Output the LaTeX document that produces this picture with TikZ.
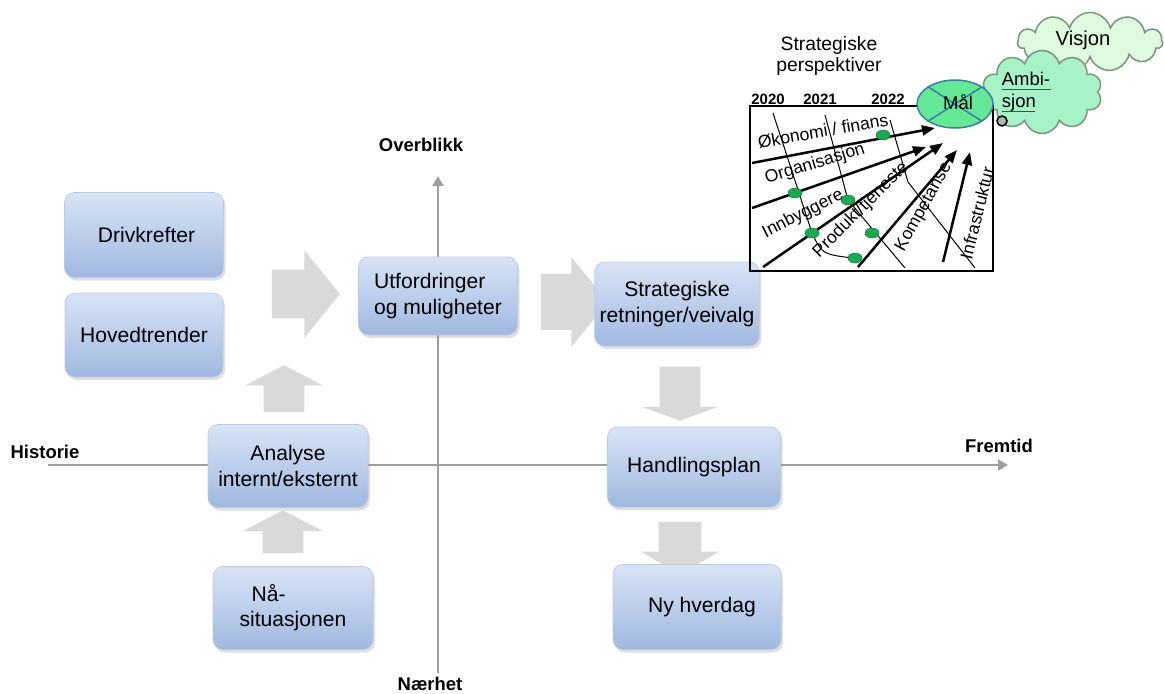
\documentclass[tikz,border=0pt]{standalone}
\usepackage{fontspec}
\setmainfont{Liberation Sans}
\usetikzlibrary{shapes.geometric,shapes.symbols,shapes.arrows,shadows,arrows.meta}
\definecolor{boksTopp}{RGB}{216,228,245}
\definecolor{boksBunn}{RGB}{160,184,224}
\definecolor{boksKant}{RGB}{186,202,230}
\definecolor{pilgraa}{RGB}{217,217,217}
\definecolor{aksegraa}{RGB}{160,160,160}
\definecolor{maalgronn}{RGB}{100,232,150}
\definecolor{maalkant}{RGB}{60,125,165}
\definecolor{ambgronn}{RGB}{168,242,200}
\definecolor{visgronn}{RGB}{224,250,224}
\definecolor{skykant}{RGB}{120,150,125}
\definecolor{prikk}{RGB}{28,168,80}

\begin{document}
\begin{tikzpicture}[x=0.2mm, y=-0.2mm,
	boks/.style = {rounded corners=2mm, draw=boksKant, top color=boksTopp, bottom color=boksBunn, align=center, inner sep=1mm, font=\fontsize{12}{14.4}\selectfont, drop shadow={opacity=0.25, shadow xshift=0.4mm, shadow yshift=-0.6mm}},
	pil/.style = {single arrow, fill=pilgraa, draw=none, inner xsep=0, minimum width=0, single arrow tip angle=#1},
	pil/.default = 102,
	akse/.style = {draw=aksegraa, line width=0.45mm, -{Triangle[length=2mm,width=2.2mm]}},
	aksetekst/.style = {font=\fontsize{10.5}{12}\selectfont\bfseries},
	aar/.style = {font=\fontsize{8.5}{10}\selectfont\bfseries},
	persp/.style = {font=\fontsize{10}{12}\selectfont, inner sep=0},
	perspil/.style = {line width=0.5mm, -{Triangle[length=2.6mm,width=2mm]}},
	sky/.style = {cloud, draw=skykant, line width=0.3mm, inner sep=0}]
	\useasboundingbox (0,0) rectangle (1164,693);

	\coordinate (vest) at (48,465);
	\coordinate (ost) at (1008,465);
	\coordinate (sor) at (438,673);
	\coordinate (nord) at (438,176);
	\draw[akse] (vest) -- (ost);
	\draw[akse] (sor) -- (nord);
	\node[aksetekst] (overblikk) at (421,145) {Overblikk};
	\node[aksetekst] (naerhet) at (430,684) {Nærhet};
	\node[aksetekst] (historie) at (45,452) {Historie};
	\node[aksetekst] (fremtid) at (999,446) {Fremtid};

	\node[pil, minimum height=13.6mm, inner ysep=4.8mm, single arrow head extend=3.9mm] (pilA) at (296,294) {};
	\node[pil, minimum height=13.4mm, inner ysep=5.5mm, single arrow head extend=3.4mm] (pilB) at (563,302) {};
	\node[pil=125, rotate=90, minimum height=9.4mm, inner ysep=4mm, single arrow head extend=3.7mm] (pilC) at (284,394) {};
	\node[pil=125, rotate=90, minimum height=8.6mm, inner ysep=4mm, single arrow head extend=4mm] (pilD) at (283,537) {};
	\node[pil=140, rotate=-90, minimum height=10.8mm, inner ysep=4mm, single arrow head extend=3.6mm] (pilE) at (680,390) {};
	\node[pil=118, rotate=-90, minimum height=10.6mm, inner ysep=4.2mm, single arrow head extend=3.5mm] (pilF) at (680,542) {};

	\node[boks, minimum width=31.8mm, minimum height=17mm] (drivkrefter) at (144,235) {\hspace*{1mm}Drivkrefter};
	\node[boks, minimum width=31.6mm, minimum height=16.8mm] (hovedtrender) at (144,335) {Hovedtrender};
	\node[boks, minimum width=31.8mm, minimum height=15.6mm, align=left] (utfordringer) at (438,296) {Utfordringer\\og muligheter};
	\node[boks, minimum width=30mm, minimum height=16.8mm] (strategiske) at (677,304) {Strategiske\\retninger/veivalg};
	\node[boks, minimum width=32mm, minimum height=16.6mm] (analyse) at (288,466) {Analyse\\internt/eksternt};
	\node[boks, minimum width=32mm, minimum height=16.6mm, align=left] (naasituasjon) at (293,608) {\hspace*{2.4mm}Nå-\\situasjonen};
	\node[boks, minimum width=34.6mm, minimum height=16mm] (handlingsplan) at (694,467) {Handlingsplan};
	\node[boks, minimum width=33.6mm, minimum height=17mm] (nyhverdag) at (697,607) {\hspace*{2mm}Ny hverdag};

	\node[sky, fill=visgronn, cloud puffs=11, aspect=2.4, minimum width=29mm, minimum height=11.8mm] (visjon) at (1090,42) {};
	\node[font=\fontsize{11.5}{13}\selectfont] (visjontekst) at (1083,40) {Visjon};
	\node[sky, fill=ambgronn, cloud puffs=10, aspect=1.45, minimum width=24mm, minimum height=16.6mm] (ambisjon) at (1042,92) {};
	\node[font=\fontsize{10.5}{12.5}\selectfont, align=left, inner sep=0] (ambitekst) at (1026,92) {Ambi-\\sjon};
	\draw[red, line width=0.15mm] (1002,89) -- (1051,89);
	\draw[red, line width=0.15mm] (1002,111) -- (1035,111);

	\node[font=\fontsize{11}{12.5}\selectfont, align=center] (perspektiver) at (829,56) {Strategiske\\perspektiver};
	\node[aar] (aar2020) at (768,99) {2020};
	\node[aar] (aar2021) at (820,99) {2021};
	\node[aar] (aar2022) at (888,99) {2022};
	\draw[line width=0.45mm] (750,106) rectangle (993,271);

	\draw[line width=0.2mm] (773,113) -- (812,233) .. controls (822,254) .. (852,258);
	\draw[line width=0.2mm] (825,115) -- (848,200) -- (905,268);
	\draw[line width=0.2mm] (890,120) -- (908,182) -- (975,268);

	\node[persp, rotate=10] (okonomi) at (823,131) {Økonomi / finans};
	\node[persp, rotate=17] (organisasjon) at (815,164) {Organisasjon};
	\node[persp, rotate=27] (innbyggere) at (803,214) {Innbyggere};
	\node[persp, rotate=45] (produkt) at (861,210) {Produkt/tjeneste};
	\node[persp, rotate=61] (kompetanse) at (924,207) {Kompetanse};
	\node[persp, rotate=76] (infrastruktur) at (977,213) {Infrastruktur};

	\draw[perspil] (752,163) -- (935,128);
	\draw[perspil] (752,208) -- (926,147);
	\draw[perspil] (763,267) -- (943,143);
	\draw[perspil] (858,267) -- (957,150);
	\draw[perspil] (943,262) -- (970,152);

	\foreach \x/\y in {883/135, 795/193, 848/200, 812/233, 872/233, 855/258}
		\filldraw[fill=prikk, draw=prikk!70!black, line width=0.1mm] (\x,\y) ellipse [x radius=1.4mm, y radius=1mm];

	\node[ellipse, draw=maalkant, fill=maalgronn, line width=0.3mm, minimum width=15.2mm, minimum height=9.6mm, inner sep=0] (maal) at (955,104) {};
	\draw[maalkant, line width=0.3mm] (maal.north west) -- (maal.south east);
	\draw[maalkant, line width=0.3mm] (maal.south west) -- (maal.north east);
	\node[font=\fontsize{10.5}{12}\selectfont] (maaltekst) at (958,102) {Mål};
	\node[circle, draw=black, fill=gray!60, line width=0.3mm, minimum size=2mm, inner sep=0] (boble) at (1002,121) {};
\end{tikzpicture}
\end{document}
